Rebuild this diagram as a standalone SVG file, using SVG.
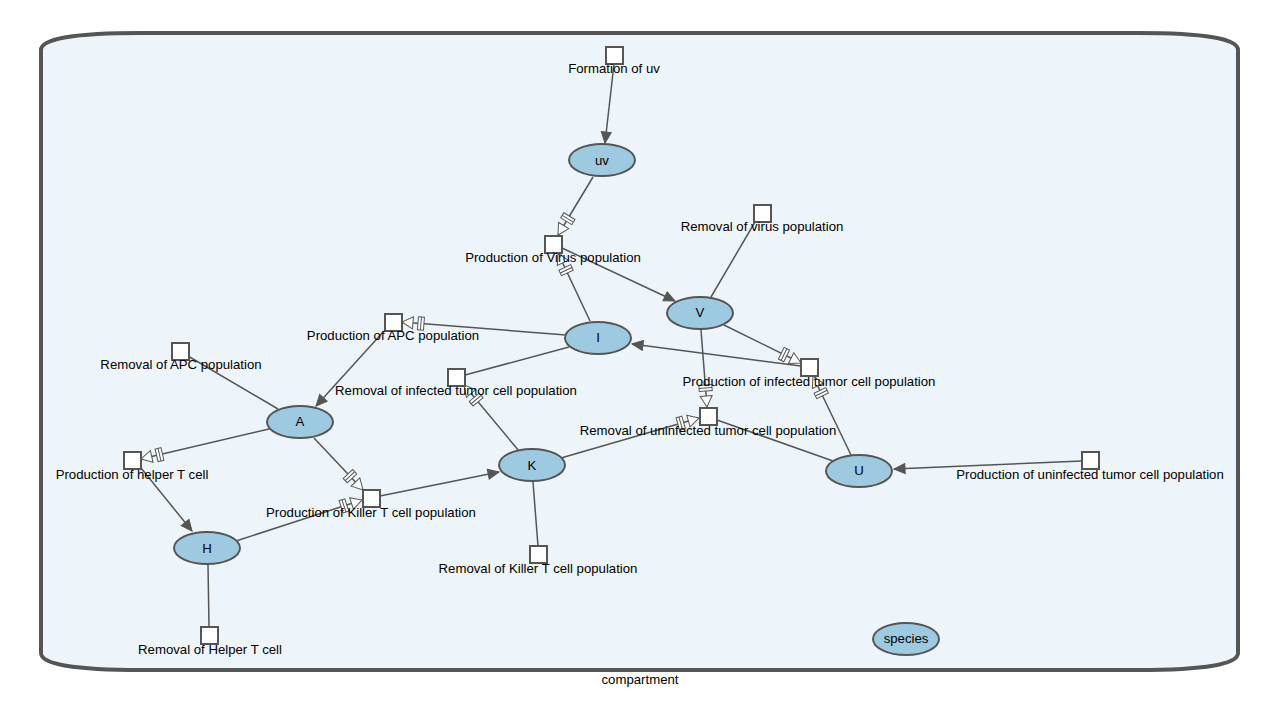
<svg xmlns="http://www.w3.org/2000/svg" width="1280" height="720" viewBox="0 0 1280 720">
  <style>
    .species ellipse { fill: #9ecae1; stroke: #555; stroke-width: 2; }
    .reaction rect { fill: #fff; stroke: #555; stroke-width: 2; }
    text { font-family: "Liberation Sans", Arial, sans-serif; font-size: 13.2px; fill: #000; text-anchor: middle; }
    .edge { stroke: #555; stroke-width: 1.5; fill: none; }
    .prod { marker-end: url(#arrow); }
    .mod { marker-end: url(#modifier); }
  </style>
  <defs>
    <marker id="arrow" viewBox="-12 -6 13 12" refX="0" refY="0" markerWidth="13" markerHeight="12" markerUnits="userSpaceOnUse" orient="auto">
      <path d="M -11 -5 L 0 0 L -11 5 Z" fill="#555" stroke="#555" stroke-width="1"/>
    </marker>
    <marker id="modifier" viewBox="-26 -8 27 16" refX="0" refY="0" markerWidth="27" markerHeight="16" markerUnits="userSpaceOnUse" orient="auto">
      <path d="M -11 -6 L 0 0 L -11 6 Z" fill="#fff" stroke="#555" stroke-width="1"/>
      <rect x="-22" y="-6.5" width="6" height="13" fill="#fff" stroke="#555" stroke-width="1"/>
      <line x1="-19" y1="-6.5" x2="-19" y2="6.5" stroke="#555" stroke-width="1"/>
    </marker>
  </defs>

  <!-- compartment -->
  <g id="compartment">
    <path d="M 141 33 L 1138 33 Q 1238 33 1238 50 L 1238 653 Q 1238 670 1138 670 L 141 670 Q 41 670 41 653 L 41 50 Q 41 33 141 33 Z" fill="#edf5fa" stroke="#555" stroke-width="4"/>
    <text x="640" y="684">compartment</text>
  </g>

  <!-- connectors -->
  <g id="connectors">
    <line class="edge prod" x1="614" y1="64" x2="605" y2="143"/>
    <line class="edge mod" x1="593" y1="177" x2="558" y2="235"/>
    <line class="edge mod" x1="590" y1="321" x2="558" y2="253"/>
    <line class="edge prod" x1="562" y1="248" x2="675" y2="301"/>
    <line class="edge" x1="711" y1="297" x2="755" y2="222"/>
    <line class="edge mod" x1="724" y1="325" x2="801" y2="363"/>
    <line class="edge mod" x1="851" y1="455" x2="813" y2="376"/>
    <line class="edge prod" x1="801" y1="366" x2="632" y2="344"/>
    <line class="edge mod" x1="566" y1="335" x2="402" y2="322"/>
    <line class="edge prod" x1="384" y1="331" x2="316" y2="406"/>
    <line class="edge" x1="278" y1="409" x2="188" y2="356"/>
    <line class="edge mod" x1="269" y1="429" x2="141" y2="459"/>
    <line class="edge prod" x1="141" y1="468" x2="192" y2="531"/>
    <line class="edge mod" x1="314" y1="438" x2="363" y2="490"/>
    <line class="edge mod" x1="236" y1="541" x2="362" y2="500"/>
    <line class="edge prod" x1="380" y1="496" x2="499" y2="472"/>
    <line class="edge mod" x1="519" y1="451" x2="464" y2="385"/>
    <line class="edge" x1="569" y1="347" x2="465" y2="375"/>
    <line class="edge mod" x1="701" y1="330" x2="707" y2="407"/>
    <line class="edge mod" x1="561" y1="458" x2="699" y2="418"/>
    <line class="edge" x1="833" y1="461" x2="717" y2="420"/>
    <line class="edge prod" x1="1082" y1="461" x2="894" y2="469"/>
    <line class="edge" x1="533" y1="482" x2="538" y2="546"/>
    <line class="edge" x1="208" y1="565" x2="209" y2="627"/>
  </g>

  <!-- reactions -->
  <g id="r_formation_uv" class="reaction"><rect x="606" y="47" width="17" height="17"/><text x="614" y="73">Formation of uv</text></g>
  <g id="r_prod_virus" class="reaction"><rect x="545" y="236" width="17" height="17"/><text x="553" y="262">Production of Virus population</text></g>
  <g id="r_removal_virus" class="reaction"><rect x="754" y="205" width="17" height="17"/><text x="762" y="231">Removal of virus population</text></g>
  <g id="r_prod_apc" class="reaction"><rect x="385" y="314" width="17" height="17"/><text x="393" y="340">Production of APC population</text></g>
  <g id="r_removal_apc" class="reaction"><rect x="172" y="343" width="17" height="17"/><text x="181" y="369">Removal of APC population</text></g>
  <g id="r_removal_infected" class="reaction"><rect x="448" y="369" width="17" height="17"/><text x="456" y="395">Removal of infected tumor cell population</text></g>
  <g id="r_prod_infected" class="reaction"><rect x="801" y="359" width="17" height="17"/><text x="809" y="386">Production of infected tumor cell population</text></g>
  <g id="r_removal_uninfected" class="reaction"><rect x="700" y="408" width="17" height="17"/><text x="708" y="435">Removal of uninfected tumor cell population</text></g>
  <g id="r_prod_uninfected" class="reaction"><rect x="1082" y="452" width="17" height="17"/><text x="1090" y="479">Production of uninfected tumor cell population</text></g>
  <g id="r_prod_helper" class="reaction"><rect x="124" y="452" width="17" height="17"/><text x="132" y="479">Production of helper T cell</text></g>
  <g id="r_prod_killer" class="reaction"><rect x="363" y="490" width="17" height="17"/><text x="371" y="517">Production of Killer T cell population</text></g>
  <g id="r_removal_killer" class="reaction"><rect x="530" y="546" width="17" height="17"/><text x="538" y="573">Removal of Killer T cell population</text></g>
  <g id="r_removal_helper" class="reaction"><rect x="201" y="627" width="17" height="17"/><text x="210" y="654">Removal of Helper T cell</text></g>

  <!-- species -->
  <g id="s_uv" class="species"><ellipse cx="602" cy="160" rx="33" ry="16"/><text x="602" y="165">uv</text></g>
  <g id="s_V" class="species"><ellipse cx="700" cy="313" rx="33" ry="16"/><text x="700" y="317">V</text></g>
  <g id="s_I" class="species"><ellipse cx="598" cy="338" rx="33" ry="16"/><text x="598" y="342">I</text></g>
  <g id="s_A" class="species"><ellipse cx="300" cy="422" rx="33" ry="16"/><text x="300" y="426">A</text></g>
  <g id="s_K" class="species"><ellipse cx="532" cy="465" rx="33" ry="16"/><text x="532" y="470">K</text></g>
  <g id="s_U" class="species"><ellipse cx="859" cy="471" rx="33" ry="16"/><text x="859" y="475">U</text></g>
  <g id="s_H" class="species"><ellipse cx="207" cy="548" rx="33" ry="16"/><text x="207" y="553">H</text></g>
  <g id="s_species" class="species"><ellipse cx="906" cy="639" rx="33" ry="16"/><text x="906" y="643">species</text></g>
</svg>
